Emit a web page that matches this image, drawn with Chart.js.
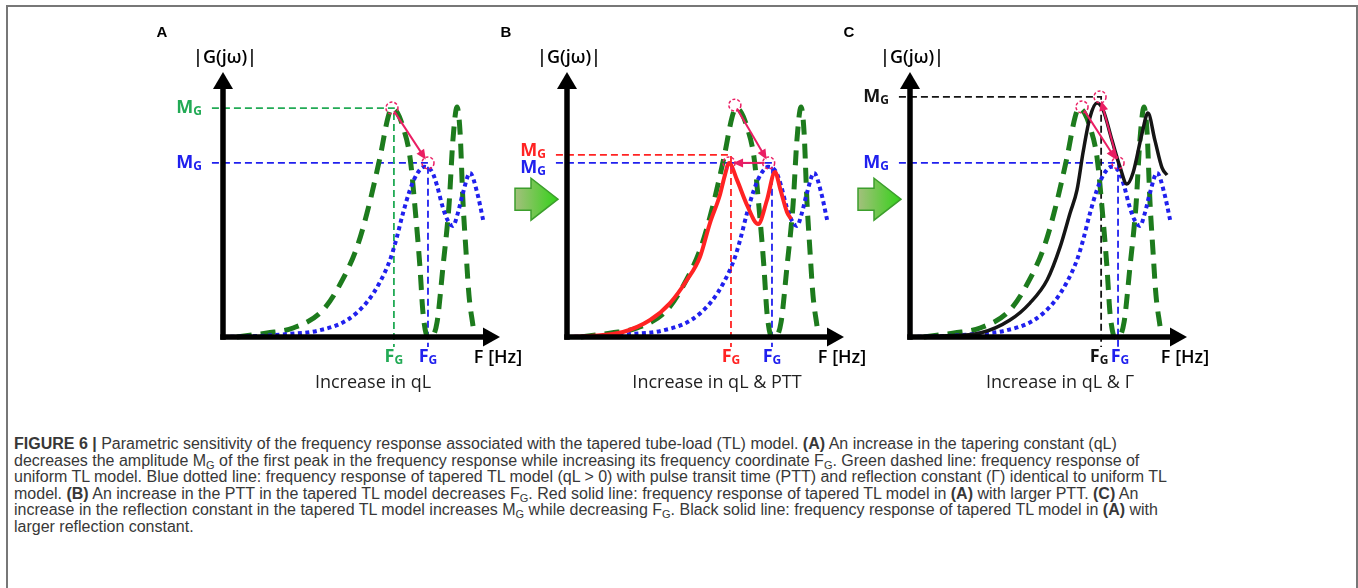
<!DOCTYPE html>
<html>
<head>
<meta charset="utf-8">
<script src="https://cdn.jsdelivr.net/npm/chart.js@4.4.0/dist/chart.umd.min.js"></script>
<style>
  html, body { margin: 0; padding: 0; background: #fff; }
  body { width: 1358px; height: 588px; position: relative; overflow: hidden; }
  .frame { position: absolute; left: 6px; top: 5px; width: 1348px; height: 700px; border: 2px solid #777; }
  .panel { position: absolute; top: 0; }
  .caption { position: absolute; left: 14px; top: 436px; font-family: "Liberation Sans", Arial, sans-serif;
    font-size: 16px; line-height: 16.6px; color: #383838; white-space: nowrap; }
  .caption sub { font-size: 11px; vertical-align: -3px; line-height: 0; }
</style>
</head>
<body>
<div class="frame"></div>
<canvas id="panelA" class="panel" width="400" height="400" style="left:138px"></canvas>
<canvas id="panelB" class="panel" width="400" height="400" style="left:482px"></canvas>
<canvas id="panelC" class="panel" width="400" height="400" style="left:825px"></canvas>
<div class="caption">
  <div><b>FIGURE 6 |</b> Parametric sensitivity of the frequency response associated with the tapered tube-load (TL) model. <b>(A)</b> An increase in the tapering constant (qL)</div>
  <div>decreases the amplitude M<sub>G</sub> of the first peak in the frequency response while increasing its frequency coordinate F<sub>G</sub>. Green dashed line: frequency response of</div>
  <div>uniform TL model. Blue dotted line: frequency response of tapered TL model (qL &gt; 0) with pulse transit time (PTT) and reflection constant (Γ) identical to uniform TL</div>
  <div>model. <b>(B)</b> An increase in the PTT in the tapered TL model decreases F<sub>G</sub>. Red solid line: frequency response of tapered TL model in <b>(A)</b> with larger PTT. <b>(C)</b> An</div>
  <div>increase in the reflection constant in the tapered TL model increases M<sub>G</sub> while decreasing F<sub>G</sub>. Black solid line: frequency response of tapered TL model in <b>(A)</b> with</div>
  <div>larger reflection constant.</div>
</div>
<script>
// Curves (frequency in % of axis, magnitude in % of axis)
const greenX = [5, 10.8, 15.9, 25.3, 36.1, 43.3, 48.4, 52.0, 56.7, 59.6, 61.0, 63.0, 65.0, 67.5, 69.3, 71.1, 72.2, 74.0, 75.1, 77.3, 79.4, 81.6, 83.0, 84.5, 85.6, 86.6, 87.7, 88.8, 90.3];
const greenY = [0, 0.8, 1.5, 3.4, 10.2, 21.9, 34.0, 46.8, 67.9, 83.0, 86.4, 84.5, 79.2, 67.9, 49.1, 26.4, 9.1, 0, 0, 5.7, 26.4, 49.8, 74.3, 86.8, 77.0, 51.7, 32.8, 15.8, 3.8];
const blueX = [0, 13.4, 23.1, 33.9, 44.8, 52.0, 56.7, 60.3, 62.5, 65.0, 67.5, 70.0, 72.6, 75.5, 77.3, 79.1, 80.9, 83.0, 84.8, 86.6, 89.2, 91.7, 93.9];
const blueY = [0, 0.4, 1.1, 2.3, 6.4, 13.2, 20.8, 29.1, 36.6, 46.8, 55.5, 61.5, 64.2, 62.3, 57.0, 49.8, 44.5, 41.9, 46.8, 54.3, 61.9, 54.7, 44.2];
const redX = [0, 8.3, 20.2, 30.0, 37.2, 43.3, 48.0, 51.6, 55.2, 57.0, 58.5, 61.4, 65.0, 69.0, 72.2, 75.1, 76.9, 79.4, 80.9];
const redY = [0, 0.4, 1.9, 6.4, 12.8, 21.5, 30.2, 43.0, 53.6, 61.1, 65.7, 59.2, 49.8, 42.6, 51.7, 62.3, 56.2, 47.2, 44.5];
const blackX = [0.7, 11.9, 25.3, 36.1, 43.3, 49.5, 54.2, 57.8, 60.3, 62.5, 65.0, 67.5, 69.7, 72.9, 75.8, 78.3, 80.5, 83.8, 85.9, 88.4, 91.0, 92.8];
const blackY = [0, 0.4, 1.5, 6.4, 12.8, 21.5, 34.0, 46.8, 55.5, 69.8, 83.0, 88.3, 85.7, 74.3, 64.2, 57.7, 61.9, 77.0, 84.5, 74.3, 63.8, 61.1];

// Peak markers per panel: amplitude M_G and frequency F_G
const markA_MG = [86.4, 65.7];
const markA_FG = [61.7, 74.0];
const markB_MG = [68.7, 65.7];
const markB_FG = [59.2, 74.0];
const markC_MG = [90.6, 65.7];
const markC_FG = [69.0, 75.1];

// Dashed circles around peaks (x, y) and arrows between them
const circlesA = [[61.0, 86.4], [74.0, 65.7]];
const circlesB = [[60.6, 87.5], [72.8, 65.7], [58.5, 65.7]];
const circlesC = [[62.1, 86.8], [75.1, 65.7], [68.6, 90.6]];
const arrowsA = [[0, 1]];
const arrowsB = [[0, 1], [1, 2]];
const arrowsC = [[0, 1], [1, 2]];

const GREEN = '#1d7b1d', GUIDE_GREEN = '#22aa55', BLUE = '#2020ee', RED = '#ff2323', BLACK = '#151515';
const PINK = '#ea1e63';

function curve(xs, ys, style) {
  return Object.assign({
    data: xs.map((x, i) => ({ x: x, y: ys[i] })),
    pointRadius: 0, clip: false, fill: false,
    cubicInterpolationMode: 'monotone', borderCapStyle: 'butt'
  }, style);
}

function guide(mg, fg, color) {
  return {
    data: [{ x: -4, y: mg }, { x: fg, y: mg }, { x: fg, y: -3.8 }],
    borderColor: color, borderWidth: 1.8, borderDash: [7, 4],
    pointRadius: 0, clip: false, tension: 0, order: 6
  };
}

function drawSub(ctx, main, sub, x, y, color, align) {
  ctx.font = 'bold 18px "Open Sans"';
  const w1 = ctx.measureText(main).width;
  ctx.font = 'bold 12px "Open Sans"';
  const w2 = ctx.measureText(sub).width;
  const start = align === 'right' ? x - w1 - w2 : x - (w1 + w2) / 2;
  ctx.fillStyle = color;
  ctx.textAlign = 'left';
  ctx.textBaseline = 'middle';
  ctx.font = 'bold 18px "Open Sans"';
  ctx.fillText(main, start, y);
  ctx.font = 'bold 12px "Open Sans"';
  ctx.fillText(sub, start + w1, y + 4);
}

const decor = {
  id: 'decor',
  afterDatasetsDraw(chart, args, o) {
    const ctx = chart.ctx, sx = chart.scales.x, sy = chart.scales.y;
    const px = v => sx.getPixelForValue(v), py = v => sy.getPixelForValue(v);
    const x0 = px(0), y0 = py(0), xE = px(100), yT = py(100);
    ctx.save();

    // axes with arrow heads
    ctx.strokeStyle = '#000';
    ctx.fillStyle = '#000';
    ctx.lineWidth = 5.5;
    ctx.beginPath(); ctx.moveTo(x0, y0 + 2.75); ctx.lineTo(x0, yT + 14); ctx.stroke();
    ctx.beginPath(); ctx.moveTo(x0 - 2.75, y0); ctx.lineTo(xE - 14, y0); ctx.stroke();
    ctx.beginPath(); ctx.moveTo(x0, yT); ctx.lineTo(x0 - 10, yT + 17); ctx.lineTo(x0 + 10, yT + 17); ctx.closePath(); ctx.fill();
    ctx.beginPath(); ctx.moveTo(xE, y0); ctx.lineTo(xE - 17, y0 - 9.5); ctx.lineTo(xE - 17, y0 + 9.5); ctx.closePath(); ctx.fill();

    // axis titles and panel letter
    ctx.textAlign = 'center';
    ctx.textBaseline = 'middle';
    ctx.font = '600 18px "Open Sans"';
    ctx.fillText('|G(jω)|', x0 + 2, yT - 14);
    ctx.fillText('F [Hz]', xE - 2, y0 + 21);
    ctx.font = '400 18px "Open Sans"';
    ctx.fillStyle = '#222';
    ctx.fillText(o.note, x0 + 150, y0 + 46);
    ctx.fillStyle = '#000';
    ctx.font = 'bold 15px "Liberation Sans"';
    ctx.fillText(o.letter, x0 - 61, yT - 39);

    // M_G and F_G labels
    o.mg.forEach((v, i) => {
      drawSub(ctx, 'M', 'G', x0 - 21, py(v) + (o.mgDy[i] || 0), o.colors[i], 'right');
      drawSub(ctx, 'F', 'G', px(o.fg[i]) + (o.fgDx[i] || 0), y0 + 20, o.colors[i], 'center');
    });

    // green block arrow between panels
    if (o.block) {
      const cy = py(52), l = x0 - 52, h = x0 - 36, t = x0 - 9;
      const g = ctx.createLinearGradient(l, 0, t, 0);
      g.addColorStop(0, '#a3c07d');
      g.addColorStop(0.5, '#6cc84a');
      g.addColorStop(1, '#33d21a');
      ctx.beginPath();
      ctx.moveTo(l, cy - 11); ctx.lineTo(h, cy - 11); ctx.lineTo(h, cy - 21); ctx.lineTo(t, cy);
      ctx.lineTo(h, cy + 21); ctx.lineTo(h, cy + 11); ctx.lineTo(l, cy + 11); ctx.closePath();
      ctx.fillStyle = g; ctx.fill();
      ctx.lineWidth = 1.5; ctx.strokeStyle = '#3c9e2c'; ctx.stroke();
    }

    // dashed circles around peaks
    ctx.strokeStyle = PINK;
    ctx.lineWidth = 1.5;
    ctx.setLineDash([3, 2]);
    o.circles.forEach(c => {
      ctx.beginPath(); ctx.arc(px(c[0]), py(c[1]), 6, 0, Math.PI * 2); ctx.stroke();
    });
    ctx.setLineDash([]);

    // arrows from one peak to the next
    ctx.fillStyle = PINK;
    ctx.lineWidth = 2;
    o.arrows.forEach(a => {
      const ax = px(o.circles[a[0]][0]), ay = py(o.circles[a[0]][1]);
      const bx = px(o.circles[a[1]][0]), by = py(o.circles[a[1]][1]);
      const len = Math.hypot(bx - ax, by - ay), ux = (bx - ax) / len, uy = (by - ay) / len;
      const sx0 = ax + ux * 4, sy0 = ay + uy * 4, ex = bx - ux * 4, ey = by - uy * 4;
      ctx.beginPath(); ctx.moveTo(sx0, sy0); ctx.lineTo(ex - ux * 8, ey - uy * 8); ctx.stroke();
      ctx.beginPath();
      ctx.moveTo(ex, ey);
      ctx.lineTo(ex - ux * 10 - uy * 4.5, ey - uy * 10 + ux * 4.5);
      ctx.lineTo(ex - ux * 10 + uy * 4.5, ey - uy * 10 - ux * 4.5);
      ctx.closePath(); ctx.fill();
    });
    ctx.restore();
  }
};

function makePanel(id, datasets, opts) {
  new Chart(document.getElementById(id), {
    type: 'line',
    data: { datasets: datasets },
    options: {
      responsive: false,
      animation: false,
      events: [],
      layout: { padding: { left: 85, right: 38, top: 72, bottom: 63 } },
      scales: {
        x: { type: 'linear', min: 0, max: 100, display: false },
        y: { type: 'linear', min: 0, max: 100, display: false }
      },
      plugins: { legend: { display: false }, tooltip: { enabled: false }, decor: opts }
    },
    plugins: [decor]
  });
}

const greenStyle = { borderColor: GREEN, borderWidth: 5, borderDash: [15, 9], order: 4 };
const blueStyle = { borderColor: BLUE, borderWidth: 4, borderDash: [4, 3.5], order: 3 };

makePanel('panelA', [
  guide(markA_MG[0], markA_FG[0], GUIDE_GREEN),
  guide(markA_MG[1], markA_FG[1], BLUE),
  curve(greenX, greenY, greenStyle),
  curve(blueX, blueY, blueStyle)
], {
  letter: 'A', note: 'Increase in qL', mg: markA_MG, fg: markA_FG, colors: [GUIDE_GREEN, BLUE],
  mgDy: [0, 0], fgDx: [0, 0], circles: circlesA, arrows: arrowsA, block: false
});

makePanel('panelB', [
  guide(markB_MG[0], markB_FG[0], RED),
  guide(markB_MG[1], markB_FG[1], BLUE),
  curve(greenX, greenY, greenStyle),
  curve(blueX, blueY, blueStyle),
  curve(redX, redY, { borderColor: RED, borderWidth: 4, order: 1 })
], {
  letter: 'B', note: 'Increase in qL & PTT', mg: markB_MG, fg: markB_FG, colors: [RED, BLUE],
  mgDy: [-4, 5], fgDx: [0, 0], circles: circlesB, arrows: arrowsB, block: true
});

makePanel('panelC', [
  guide(markC_MG[0], markC_FG[0], BLACK),
  guide(markC_MG[1], markC_FG[1], BLUE),
  curve(greenX, greenY, greenStyle),
  curve(blueX, blueY, blueStyle),
  curve(blackX, blackY, { borderColor: BLACK, borderWidth: 3.5, order: 1 })
], {
  letter: 'C', note: 'Increase in qL & Γ', mg: markC_MG, fg: markC_FG, colors: [BLACK, BLUE],
  mgDy: [0, 0], fgDx: [-2, 2], circles: circlesC, arrows: arrowsC, block: true
});
</script>
</body>
</html>
